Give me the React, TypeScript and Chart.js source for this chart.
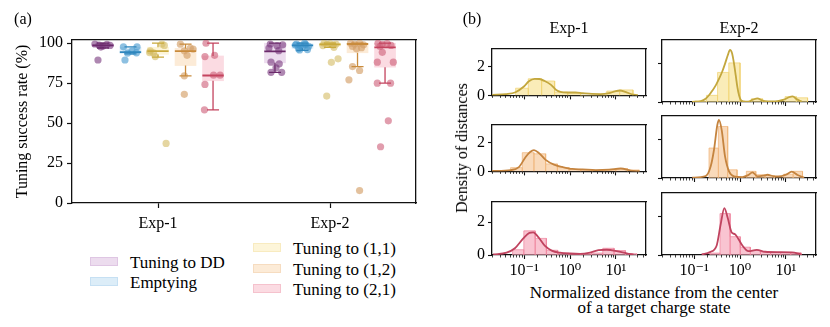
import React, { useEffect, useRef } from 'react';
import { Chart, registerables } from 'chart.js';

Chart.register(...registerables);

const FONT = "'Liberation Serif', 'DejaVu Serif', serif";
const FS = 16;
const FS_BIG = 17;

// ---------------- Panel (a) data ----------------
const experiments = ['Exp-1', 'Exp-2'];
const tasks = ['Tuning to DD', 'Emptying', 'Tuning to (1,1)', 'Tuning to (1,2)', 'Tuning to (2,1)'];
const yTicksA = [0, 25, 50, 75, 100];

// [lower whisker, q1, median, q3, upper whisker] for Exp-1, Exp-2
const statsDD = [[97, 97.8, 98.6, 99.3, 100], [81.8, 87.7, 94.9, 100, 100]];
const statsEmpty = [[93.3, 93.6, 94.4, 97.4, 97.7], [95.5, 96.8, 98.6, 99.6, 100]];
const stats11 = [[91.3, 93, 95, 97.5, 100], [97.4, 98.3, 99.3, 100, 100]];
const stats12 = [[79.6, 86, 95, 96.7, 99.4], [85.4, 94, 99.5, 100, 100]];
const stats21 = [[58.3, 76.5, 79.8, 92, 100], [75, 85, 97.4, 100, 100]];

// individual runs: values and jitter (category units)
const ptsDD1 = [99.5, 98.8, 98.3, 99.2, 98.6, 97.6, 89.5];
const jitDD1 = [-0.047, -0.023, 0, 0.023, 0.041, -0.012, -0.029];
const ptsDD2 = [99.5, 98.4, 99, 95.3, 88.1, 87.1, 81.8, 81.8, 84.6, 97];
const jitDD2 = [-0.027, 0.012, 0.045, 0.022, -0.023, 0.025, -0.023, 0.039, 0.006, -0.035];
const ptsEm1 = [97.7, 97.7, 95, 94, 93.8, 89.5];
const jitEm1 = [-0.041, 0.038, 0.009, 0.035, -0.017, -0.032];
const ptsEm2 = [99.5, 98.5, 99.2, 98, 96.5, 97.5, 96, 98.8, 100, 95.8];
const jitEm2 = [-0.035, -0.012, 0.017, 0.035, -0.023, 0, 0.029, -0.041, 0.012, -0.017];
const pts111 = [95.2, 93.9, 91.6, 99.5, 98.6, 94.1, 37.3];
const jit111 = [-0.045, -0.026, -0.016, 0.023, 0.037, -0.049, 0.047];
const pts112 = [100, 99.2, 99.7, 98.8, 99.5, 97.4, 88, 90.2, 66.9, 98.5];
const jit112 = [-0.035, -0.017, 0, 0.017, 0.035, 0.023, 0.008, 0.047, -0.019, -0.041];
const pts121 = [99.4, 97, 95.2, 92.4, 79.6, 68, 96.3];
const jit121 = [-0.03, 0.028, -0.007, 0.009, -0.007, -0.007, 0.044];
const pts122 = [100, 99.5, 100, 99, 98, 97.2, 96.5, 85.4, 82.9, 77.1, 7.8];
const jit122 = [-0.041, -0.017, 0.012, 0.035, -0.029, 0.023, -0.006, -0.029, 0.012, -0.05, 0.012];
const pts211 = [100, 91.6, 92.4, 80, 80, 74.2, 58.3];
const jit211 = [-0.041, -0.047, 0.009, 0.003, 0.041, -0.047, -0.05];
const pts212 = [100, 99.3, 99.8, 98.6, 98, 94.3, 88.1, 88.1, 75, 75, 51.4, 35.2];
const jit212 = [-0.041, -0.017, 0.012, 0.035, -0.029, -0.016, 0.048, -0.045, -0.045, 0.032, 0.019, -0.026];

const boxStats = [statsDD, statsEmpty, stats11, stats12, stats21];
const pointVals = [[ptsDD1, ptsDD2], [ptsEm1, ptsEm2], [pts111, pts112], [pts121, pts122], [pts211, pts212]];
const pointJit = [[jitDD1, jitDD2], [jitEm1, jitEm2], [jit111, jit112], [jit121, jit122], [jit211, jit212]];

const lineCol = ['#6b2a6b', '#2f86bd', '#c9a93c', '#c98b3c', '#c4445f'];
const pointCol = ['rgba(120,55,125,0.6)', 'rgba(65,150,205,0.6)', 'rgba(212,186,98,0.6)', 'rgba(212,160,105,0.65)', 'rgba(205,92,118,0.6)'];
const boxFill = ['#ecdcee', '#dcedf8', '#fdf5d9', '#fcebd7', '#fbdbe2'];
const patchEdge = ['#dfc6e3', '#c6e0f3', '#f8ebc0', '#f6dcc0', '#f5c2cd'];
const hueOffsets = [-0.32, -0.16, 0, 0.16, 0.32];

// ---------------- Panel (b) data ----------------
const xMajor = [0.1, 1, 10];
const xMajorLabels = ['10\u207B\u00B9', '10\u2070', '10\u00B9'];
const xMinor = [0.02, 0.03, 0.04, 0.05, 0.06, 0.07, 0.08, 0.09, 0.2, 0.3, 0.4, 0.5, 0.6, 0.7, 0.8, 0.9, 2, 3, 4, 5, 6, 7, 8, 9, 20, 30, 40];
const yTicksB = [0, 2];

const edges11e1 = [0.0653, 0.123, 0.241, 0.462, 0.891, 1.71, 3.31, 6.31, 12.0, 23.4];
const heights11e1 = [0.5, 1.15, 1.0, 0.22, 0.17, 0, 0, 0.3, 0.38];
const kdeX11e1 = [0.0202, 0.04, 0.065, 0.099, 0.127, 0.17, 0.215, 0.28, 0.38, 0.5, 0.62, 0.85, 1.3, 1.9, 3.0, 4.6, 7.0, 9.5, 12, 16, 22, 30];
const kdeY11e1 = [0.03, 0.09, 0.22, 0.62, 0.98, 1.15, 1.14, 1.0, 0.75, 0.38, 0.24, 0.2, 0.2, 0.15, 0.1, 0.09, 0.15, 0.28, 0.34, 0.25, 0.08, 0.02];

const edges11e2 = [0.105, 0.186, 0.324, 0.569, 1.0, 1.76, 3.09, 5.43, 9.55, 16.8, 29.5];
const heights11e2 = [0.05, 0.35, 1.55, 2.05, 0, 0.17, 0, 0, 0.28, 0.22];
const kdeX11e2 = [0.09, 0.14, 0.178, 0.215, 0.25, 0.3, 0.35, 0.41, 0.47, 0.54, 0.605, 0.67, 0.74, 0.81, 0.875, 0.95, 1.03, 1.2, 1.5, 1.9, 2.4, 2.9, 3.5, 5, 7, 9, 11.5, 14, 17, 22];
const kdeY11e2 = [0.01, 0.05, 0.17, 0.38, 0.6, 0.9, 1.22, 1.6, 2.0, 2.45, 2.73, 2.55, 2.0, 1.35, 0.78, 0.35, 0.12, 0.03, 0.02, 0.12, 0.19, 0.1, 0.04, 0.03, 0.06, 0.12, 0.25, 0.3, 0.15, 0.02];

const edges12e1 = [0.0507, 0.0912, 0.164, 0.294, 0.53, 0.951, 1.71, 3.07, 5.52, 9.91, 17.8, 32.0];
const heights12e1 = [0.26, 1.3, 1.22, 0.52, 0.26, 0.14, 0.1, 0.08, 0.1, 0.2, 0.1];
const kdeX12e1 = [0.0202, 0.0507, 0.077, 0.108, 0.135, 0.164, 0.211, 0.294, 0.448, 0.68, 1.125, 1.86, 3.63, 7.1, 12.7, 21, 32];
const kdeY12e1 = [0.03, 0.09, 0.3, 1.0, 1.35, 1.48, 1.27, 0.8, 0.47, 0.31, 0.17, 0.14, 0.09, 0.12, 0.2, 0.06, 0.01];

const edges12e2 = [0.211, 0.337, 0.538, 0.861, 1.37, 2.2, 3.51, 5.61, 8.97, 14.3, 22.9];
const heights12e2 = [1.57, 2.7, 0.43, 0, 0.35, 0.17, 0.12, 0, 0.2, 0.35];
const kdeX12e2 = [0.091, 0.178, 0.229, 0.271, 0.32, 0.348, 0.398, 0.471, 0.575, 0.74, 1.125, 1.5, 1.86, 2.39, 3.2, 3.95, 5.52, 8, 9.9, 13.4, 17.8, 24.9];
const kdeY12e2 = [0.02, 0.1, 0.6, 1.48, 2.78, 3.04, 2.52, 1.13, 0.35, 0.09, 0.05, 0.15, 0.3, 0.09, 0.12, 0.17, 0.09, 0.1, 0.17, 0.33, 0.16, 0.02];

const edges21e1 = [0.0561, 0.0986, 0.174, 0.305, 0.538, 0.946, 1.67, 2.93, 5.16, 9.08, 16.0, 28.1];
const heights21e1 = [0.32, 1.47, 1.01, 0.29, 0.12, 0.08, 0.06, 0.12, 0.41, 0.27, 0.08];
const kdeX21e1 = [0.0212, 0.0415, 0.063, 0.096, 0.13, 0.158, 0.204, 0.285, 0.398, 0.605, 1.0, 1.65, 2.73, 4.15, 6.3, 10.4, 17.2, 24.1];
const kdeY21e1 = [0.03, 0.14, 0.41, 1.01, 1.35, 1.38, 1.09, 0.55, 0.27, 0.14, 0.09, 0.07, 0.15, 0.29, 0.32, 0.24, 0.1, 0.02];

const edges21e2 = [0.221, 0.366, 0.608, 1.01, 1.67, 2.78, 4.61, 7.66, 12.7, 21.1];
const heights21e2 = [0.1, 2.17, 0.96, 0.41, 0.24, 0.15, 0.12, 0.12, 0.12];
const kdeX21e2 = [0.146, 0.221, 0.31, 0.378, 0.455, 0.538, 0.658, 0.778, 0.92, 1.125, 1.52, 2.31, 3.51, 6.86, 13.4, 18.7, 22.1];
const kdeY21e2 = [0.03, 0.15, 0.5, 1.6, 2.46, 1.95, 1.18, 1.09, 0.84, 0.5, 0.2, 0.27, 0.17, 0.15, 0.14, 0.07, 0.01];

const distLine = ['#c3a73e', '#c5843f', '#c0435f'];
const distFill = ['rgba(247,225,140,0.62)', 'rgba(246,196,145,0.62)', 'rgba(245,160,180,0.62)'];
const distEdge = ['rgba(240,210,110,0.7)', 'rgba(240,180,120,0.7)', 'rgba(238,130,155,0.7)'];

// ---------------- layout ----------------
const A = { canvasW: 430, canvasH: 236, left: 72, right: 416, top: 40, bottom: 203 };
const colLeft = [492, 662];
const plotW = 154;
const rowTop = [40, 116, 193];
const plotH = 62;

const font = { family: FONT, size: FS };
const AXIS = '#111';

function borderAxis(position: string, min: number, max: number, type = 'linear') {
  return {
    type, position, min, max, offset: false,
    ticks: { display: false },
    grid: { display: false, offset: false },
    border: { display: true, color: AXIS, width: 1.3 },
    afterFit: (s: any) => { if (position === 'top' || position === 'bottom') s.height = 0; else s.width = 0; },
  };
}

function configA(): any {
  const datasets: any[] = [];
  const capHalf = 0.035;
  const boxHalf = 0.062;
  tasks.forEach((_, h) => {
    const st = boxStats[h];
    const whisk: any[] = [];
    const med: any[] = [];
    st.forEach((s, c) => {
      const x = c + hueOffsets[h];
      const [lw, q1, m, q3, uw] = s;
      whisk.push(
        { x, y: lw }, { x, y: q1 }, { x, y: null },
        { x, y: q3 }, { x, y: uw }, { x, y: null },
        { x: x - capHalf, y: lw }, { x: x + capHalf, y: lw }, { x, y: null },
        { x: x - capHalf, y: uw }, { x: x + capHalf, y: uw }, { x, y: null },
      );
      med.push({ x: x - boxHalf, y: m }, { x: x + boxHalf, y: m }, { x, y: null });
    });
    datasets.push({
      type: 'bar', label: tasks[h],
      data: st.map((s, c) => ({ x: c + hueOffsets[h], y: [s[1], s[3]] })),
      backgroundColor: boxFill[h], borderWidth: 0, barThickness: 21, grouped: false, order: 5,
    });
    const pts: any[] = [];
    pointVals[h].forEach((vals, c) => {
      vals.forEach((v, i) => pts.push({ x: c + hueOffsets[h] + pointJit[h][c][i], y: v }));
    });
    datasets.push({
      type: 'scatter', data: pts, backgroundColor: pointCol[h], borderWidth: 0,
      pointRadius: 3.6, order: 3,
    });
    datasets.push({
      type: 'line', data: whisk, borderColor: lineCol[h], borderWidth: 1.3, pointRadius: 0,
      spanGaps: false, fill: false, tension: 0, order: 2,
    });
    datasets.push({
      type: 'line', data: med, borderColor: lineCol[h], borderWidth: 1.8, pointRadius: 0,
      spanGaps: false, fill: false, tension: 0, order: 1,
    });
  });
  return {
    type: 'bar',
    data: { datasets },
    options: {
      responsive: false, animation: false,
      layout: { padding: { left: 0, top: A.top, right: A.canvasW - A.right, bottom: 0 } },
      plugins: { legend: { display: false }, tooltip: { enabled: false } },
      scales: {
        x: {
          type: 'linear', position: 'bottom', min: -0.5, max: 1.5, offset: false,
          afterBuildTicks: (s: any) => { s.ticks = [0, 1].map((v) => ({ value: v })); },
          ticks: { callback: (v: any) => experiments[Math.round(v)], font, color: '#000', padding: 6, autoSkip: false, maxRotation: 0 },
          grid: { display: true, offset: false, drawOnChartArea: false, drawTicks: true, tickLength: 5, color: AXIS, tickWidth: 1.2 },
          border: { display: true, color: AXIS, width: 1.3 },
          afterFit: (s: any) => { s.height = A.canvasH - A.bottom; },
        },
        y: {
          type: 'linear', position: 'left', min: 0, max: 102,
          afterBuildTicks: (s: any) => { s.ticks = yTicksA.map((v) => ({ value: v })); },
          ticks: { font, color: '#000', padding: 4 },
          title: { display: true, text: 'Tuning success rate (%)', font, color: '#000', padding: { top: 13, bottom: 0 } },
          grid: { display: true, drawOnChartArea: false, drawTicks: true, tickLength: 5, color: AXIS, tickWidth: 1.2 },
          border: { display: true, color: AXIS, width: 1.3 },
          afterFit: (s: any) => { s.width = A.left; },
        },
        xTop: borderAxis('top', -0.5, 1.5),
        yRight: borderAxis('right', 0, 102),
      },
    },
  };
}

function histPolygon(edges: number[], heights: number[]) {
  const pts: any[] = [];
  heights.forEach((h, i) => {
    pts.push({ x: edges[i], y: 0 }, { x: edges[i], y: h }, { x: edges[i + 1], y: h }, { x: edges[i + 1], y: 0 });
  });
  return pts;
}

function configB(p: any): any {
  const kde = p.kx.map((x: number, i: number) => ({ x, y: p.ky[i] }));
  return {
    type: 'line',
    data: {
      datasets: [
        {
          data: histPolygon(p.edges, p.heights), fill: 'origin', backgroundColor: distFill[p.row],
          borderColor: distEdge[p.row], borderWidth: 1, pointRadius: 0, tension: 0, order: 2,
        },
        {
          data: kde, fill: false, borderColor: distLine[p.row], borderWidth: 1.8, pointRadius: 0,
          cubicInterpolationMode: 'monotone', order: 1,
        },
      ],
    },
    options: {
      responsive: false, animation: false,
      layout: { padding: { left: 0, top: 4, right: 4, bottom: 0 } },
      plugins: { legend: { display: false }, tooltip: { enabled: false } },
      scales: {
        x: {
          type: 'logarithmic', position: 'bottom', min: 0.02, max: 45, weight: 1,
          afterBuildTicks: (s: any) => { s.ticks = xMajor.map((v) => ({ value: v, major: true })); },
          ticks: {
            display: p.showX, font, color: '#000', padding: 2, autoSkip: false, maxRotation: 0,
            callback: (v: any) => { const i = xMajor.findIndex((m) => Math.abs(m - v) < 1e-9); return i >= 0 ? xMajorLabels[i] : ''; },
          },
          grid: { display: true, drawOnChartArea: false, drawTicks: true, tickLength: 4, color: AXIS, tickWidth: 1.1 },
          border: { display: true, color: AXIS, width: 1.3 },
          afterFit: (s: any) => { s.height = p.xh; },
        },
        xMinor: {
          type: 'logarithmic', position: 'bottom', min: 0.02, max: 45, weight: 0,
          afterBuildTicks: (s: any) => { s.ticks = xMinor.map((v) => ({ value: v })); },
          ticks: { display: false },
          grid: { display: true, drawOnChartArea: false, drawTicks: true, tickLength: 2.5, color: AXIS, tickWidth: 0.8 },
          border: { display: false },
          afterFit: (s: any) => { s.height = 0; },
        },
        y: {
          type: 'linear', position: 'left', min: 0, max: 3.25,
          afterBuildTicks: (s: any) => { s.ticks = yTicksB.map((v) => ({ value: v })); },
          ticks: { display: p.showY, font, color: '#000', padding: 3 },
          grid: { display: true, drawOnChartArea: false, drawTicks: true, tickLength: 4, color: AXIS, tickWidth: 1.1 },
          border: { display: true, color: AXIS, width: 1.3 },
          afterFit: (s: any) => { s.width = p.yw; },
        },
        xTop: borderAxis('top', 0.02, 45, 'logarithmic'),
        yRight: borderAxis('right', 0, 3.25),
      },
    },
  };
}

function ChartBox({ left, top, width, height, make }: any) {
  const ref = useRef<HTMLCanvasElement>(null);
  useEffect(() => {
    const chart = new Chart(ref.current as HTMLCanvasElement, make());
    return () => chart.destroy();
  }, []);
  return (
    <canvas ref={ref} width={width} height={height}
      style={{ position: 'absolute', left, top, width, height }} />
  );
}

function Text({ x, y, children, rotate, size = FS }: any) {
  return (
    <div style={{
      position: 'absolute', left: x, top: y, transform: `translate(-50%, -50%)${rotate ? ' rotate(-90deg)' : ''}`,
      fontFamily: FONT, fontSize: size, lineHeight: 1, whiteSpace: 'nowrap', color: '#000',
    }}>{children}</div>
  );
}

const distPanels = [
  { row: 0, col: 0, edges: edges11e1, heights: heights11e1, kx: kdeX11e1, ky: kdeY11e1 },
  { row: 0, col: 1, edges: edges11e2, heights: heights11e2, kx: kdeX11e2, ky: kdeY11e2 },
  { row: 1, col: 0, edges: edges12e1, heights: heights12e1, kx: kdeX12e1, ky: kdeY12e1 },
  { row: 1, col: 1, edges: edges12e2, heights: heights12e2, kx: kdeX12e2, ky: kdeY12e2 },
  { row: 2, col: 0, edges: edges21e1, heights: heights21e1, kx: kdeX21e1, ky: kdeY21e1 },
  { row: 2, col: 1, edges: edges21e2, heights: heights21e2, kx: kdeX21e2, ky: kdeY21e2 },
];

const legendLeft = [0, 1];
const legendRight = [2, 3, 4];

export default function App() {
  return (
    <div style={{ position: 'fixed', left: 0, top: 0, width: 830, height: 327, background: '#fff', overflow: 'hidden' }}>
      <ChartBox left={0} top={0} width={A.canvasW} height={A.canvasH} make={configA} />
      {distPanels.map((p) => {
        const yw = p.col === 0 ? 26 : 10;
        const xh = p.row === 2 ? 26 : 6;
        const props = { ...p, yw, xh, showX: p.row === 2, showY: p.col === 0 };
        const left = colLeft[p.col] - yw;
        const top = rowTop[p.row] - 4;
        return (
          <ChartBox key={`${p.row}-${p.col}`} left={left} top={top}
            width={yw + plotW + 4} height={4 + plotH + xh} make={() => configB(props)} />
        );
      })}
      <Text x={23} y={19}>(a)</Text>
      <Text x={472} y={19}>(b)</Text>
      <Text x={569} y={28}>Exp-1</Text>
      <Text x={739} y={28}>Exp-2</Text>
      <Text x={462} y={148} rotate>Density of distances</Text>
      <Text x={654} y={292} size={FS_BIG}>Normalized distance from the center</Text>
      <Text x={654} y={307} size={FS_BIG}>of a target charge state</Text>
      {legendLeft.map((h, i) => (
        <React.Fragment key={h}>
          <div style={{ position: 'absolute', left: 90, top: 257 + i * 19.5, width: 28, height: 9, background: boxFill[h], border: `1px solid ${patchEdge[h]}`, boxSizing: 'border-box' }} />
          <div style={{ position: 'absolute', left: 130, top: 262 + i * 19.5, transform: 'translateY(-50%)', fontFamily: FONT, fontSize: FS_BIG, lineHeight: 1, whiteSpace: 'nowrap' }}>{tasks[h]}</div>
        </React.Fragment>
      ))}
      {legendRight.map((h, i) => (
        <React.Fragment key={h}>
          <div style={{ position: 'absolute', left: 253, top: 243 + i * 20.5, width: 28, height: 9, background: boxFill[h], border: `1px solid ${patchEdge[h]}`, boxSizing: 'border-box' }} />
          <div style={{ position: 'absolute', left: 293, top: 248 + i * 20.5, transform: 'translateY(-50%)', fontFamily: FONT, fontSize: FS_BIG, lineHeight: 1, whiteSpace: 'nowrap' }}>{tasks[h]}</div>
        </React.Fragment>
      ))}
    </div>
  );
}
